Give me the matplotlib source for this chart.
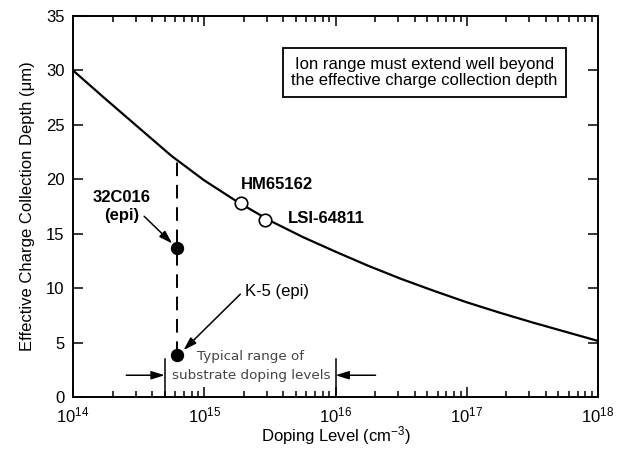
import matplotlib
matplotlib.use("Agg")
import matplotlib.pyplot as plt
from matplotlib.ticker import LogLocator, NullFormatter, MultipleLocator

plt.rcParams['font.family'] = ['Liberation Sans', 'DejaVu Sans']
plt.rcParams['mathtext.fontset'] = 'custom'
plt.rcParams['mathtext.rm'] = 'Liberation Sans'
plt.rcParams['mathtext.it'] = 'Liberation Sans:italic'
plt.rcParams['mathtext.bf'] = 'Liberation Sans:bold'

# Effective charge collection depth vs. doping level
doping = [1e14, 10**14.25, 10**14.5, 10**14.75, 1e15, 10**15.25, 10**15.5, 10**15.75,
          1e16, 10**16.25, 10**16.5, 10**16.75, 1e17, 10**17.25, 10**17.5, 10**17.75, 1e18]
depth = [30.0, 27.35, 24.75, 22.15, 19.9, 17.95, 16.2, 14.7,
         13.35, 12.05, 10.85, 9.75, 8.7, 7.75, 6.85, 6.0, 5.15]

# Devices on the curve (open circles)
curve_dev_names = ["HM65162", "LSI-64811"]
curve_dev_doping = [1.9e15, 2.9e15]
curve_dev_depth = [17.8, 16.3]

# Epi devices (filled circles)
epi_names = ["32C016\n(epi)", "K-5 (epi)"]
epi_doping = [6.2e14, 6.2e14]
epi_depth = [13.7, 3.9]
epi_curve_depth = 21.8

# Typical substrate doping range
substrate_range = [5e14, 1e16]

fig = plt.figure(figsize=(6.25, 4.49), dpi=100)
ax = fig.add_axes([0.1168, 0.1158, 0.84, 0.8486])

ax.plot(doping, depth, color='black', lw=1.6, zorder=2, solid_joinstyle='round')

# Dashed drop line from the curve to the epi devices
ax.plot([epi_doping[0], epi_doping[0]], [epi_depth[1], epi_curve_depth],
        color='black', lw=1.4, dashes=(7, 4.5), zorder=2)

ax.plot(curve_dev_doping, curve_dev_depth, 'o', ms=9, mfc='white', mec='black',
        mew=1.2, zorder=3)
ax.plot(epi_doping, epi_depth, 'o', ms=8.6, mfc='black', mec='black', zorder=3)

bold = dict(fontsize=12, fontweight='bold')
ax.text(10**15.28, 19.5, curve_dev_names[0], ha='left', va='center', **bold)
ax.text(10**15.64, 16.4, curve_dev_names[1], ha='left', va='center', **bold)
ax.text(10**14.37, 17.5, epi_names[0], ha='center', va='center',
        linespacing=1.2, **bold)
ax.text(10**15.313, 9.7, epi_names[1], ha='left', va='center', fontsize=12)

arrow = dict(arrowstyle='-|>,head_length=0.8,head_width=0.25', color='black',
             lw=1.1, shrinkA=0, shrinkB=0)
ax.annotate('', xy=(10**14.756, 14.1), xytext=(10**14.542, 16.6), arrowprops=arrow)
ax.annotate('', xy=(10**14.842, 4.3), xytext=(10**15.275, 9.45), arrowprops=arrow)

# Substrate range markers
for xv in substrate_range:
    ax.plot([xv, xv], [0, 3.5], color='black', lw=1.1, zorder=2)
ax.annotate('', xy=(substrate_range[0], 2.0), xytext=(10**14.406, 2.0), arrowprops=arrow)
ax.annotate('', xy=(substrate_range[1], 2.0), xytext=(10**16.305, 2.0), arrowprops=arrow)
ax.text(10**15.355, 3.7, "Typical range of", ha='center', va='center',
        fontsize=9.7, color='#444444', family='DejaVu Sans')
ax.text(10**15.355, 2.0, "substrate doping levels", ha='center', va='center',
        fontsize=9.7, color='#444444', family='DejaVu Sans')

ax.text(10**16.676, 29.8,
        "Ion range must extend well beyond\nthe effective charge collection depth",
        ha='center', va='center', fontsize=12, linespacing=1.15,
        bbox=dict(boxstyle='square,pad=0.5', fc='white', ec='black', lw=1.3))

ax.set_xscale('log')
ax.set_xlim(1e14, 1e18)
ax.set_ylim(0, 35)
ax.yaxis.set_major_locator(MultipleLocator(5))
ax.xaxis.set_major_locator(LogLocator(base=10, numticks=10))
ax.xaxis.set_minor_locator(LogLocator(base=10, subs=range(2, 10), numticks=50))
ax.xaxis.set_minor_formatter(NullFormatter())

ax.tick_params(which='both', direction='in', top=True, right=True, width=1.1,
               labelsize=12, colors='black')
ax.tick_params(which='major', length=7, pad=6)
ax.tick_params(which='minor', length=4)
for s in ax.spines.values():
    s.set_linewidth(1.4)

ax.set_xlabel("Doping Level (cm$^{-3}$)", fontsize=12, labelpad=-1)
ax.set_ylabel("Effective Charge Collection Depth (\u03bcm)", fontsize=12, labelpad=8)

fig.savefig("out.png", dpi=100)
